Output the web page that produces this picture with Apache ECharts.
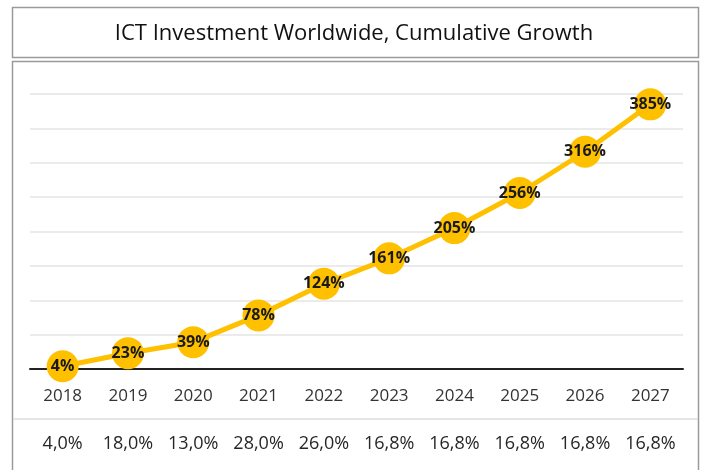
<!DOCTYPE html>
<html>
<head>
<meta charset="utf-8">
<script src="https://cdn.jsdelivr.net/npm/echarts@6/dist/echarts.min.js"></script>
<style>html,body{margin:0;padding:0;background:#fff}#c{width:708px;height:470px}</style>
</head>
<body>
<div id="c"></div>
<script>
var years = ['2018','2019','2020','2021','2022','2023','2024','2025','2026','2027'];
var cumulative = [4, 23, 39, 78, 124, 161, 205, 256, 316, 385];
var annualGrowth = ['4,0%','18,0%','13,0%','28,0%','26,0%','16,8%','16,8%','16,8%','16,8%','16,8%'];
var yTicks = [0, 50, 100, 150, 200, 250, 300, 350, 400];

var font = '"Open Sans", "Noto Sans", sans-serif';
var chart = echarts.init(document.getElementById('c'), null, {renderer: 'canvas'});
chart.setOption({
  backgroundColor: '#fff',
  animation: false,
  title: {
    text: 'ICT Investment Worldwide, Cumulative Growth',
    left: 'center', top: 18,
    textStyle: {fontFamily: font, fontSize: 22, fontWeight: 500, color: '#111'}
  },
  graphic: [
    {type: 'rect', shape: {x: 12.5, y: 7.5, width: 686, height: 50}, style: {fill: 'none', stroke: '#9a9a9a', lineWidth: 1.5}, z: -1},
    {type: 'rect', shape: {x: 12.5, y: 61.5, width: 686, height: 420}, style: {fill: 'none', stroke: '#9a9a9a', lineWidth: 1.5}, z: -1},
    {type: 'line', shape: {x1: 13, y1: 419, x2: 698, y2: 419}, style: {stroke: '#dcdcdc', lineWidth: 1.5}}
  ],
  grid: {left: 30, right: 25, top: 94, bottom: 101},
  xAxis: [
    {
      type: 'category', data: years, boundaryGap: true,
      axisLine: {lineStyle: {color: '#222', width: 2}},
      axisTick: {show: false},
      axisLabel: {interval: 0, fontFamily: font, fontSize: 17, color: '#333', margin: 19}
    },
    {
      type: 'category', data: annualGrowth, position: 'bottom', offset: 49,
      axisLine: {show: false}, axisTick: {show: false},
      axisLabel: {interval: 0, hideOverlap: false, fontFamily: font, fontSize: 18, color: '#262626', margin: 17}
    }
  ],
  yAxis: {
    type: 'value', min: yTicks[0], max: yTicks[yTicks.length - 1], interval: yTicks[1] - yTicks[0],
    axisLabel: {show: false}, axisLine: {show: false}, axisTick: {show: false},
    splitLine: {lineStyle: {color: '#e4e4e4', width: 1.5}}
  },
  series: [{
    type: 'line', data: cumulative, xAxisIndex: 0,
    symbol: 'circle', symbolSize: 32,
    lineStyle: {color: '#FFC000', width: 5},
    itemStyle: {color: '#FFC000'},
    label: {
      show: true, position: 'inside', formatter: '{c}%',
      fontFamily: font, fontSize: 16, fontWeight: 'bold', color: '#1a1a1a'
    },
    z: 3
  }]
});
</script>
</body>
</html>
